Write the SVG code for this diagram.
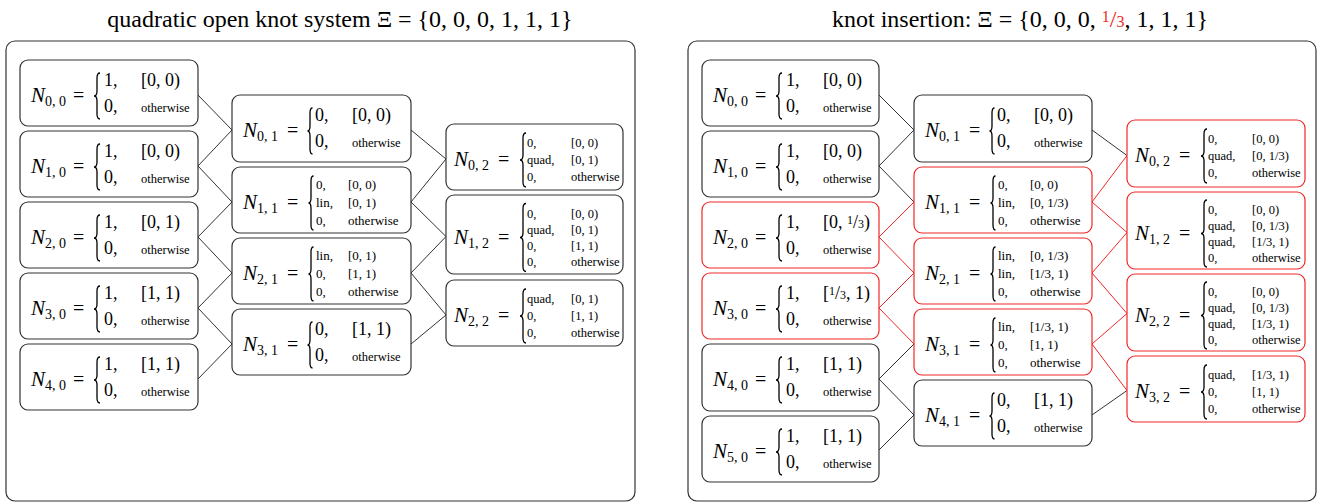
<svg xmlns="http://www.w3.org/2000/svg" width="1321" height="504" viewBox="0 0 1321 504">
<style>
.bg{fill:#fff}
.panel{fill:#fff;stroke:#333;stroke-width:1.2}
.box{fill:#fff;stroke:#333;stroke-width:1.2}
.red .box{stroke:#f02828}
text{font-family:"Liberation Serif","Times New Roman",serif;fill:#000}
.title{font-size:24px}
.nm{font-size:21px;font-style:italic}
.sub{font-size:14px}
.eq{font-size:20px}
.big{font-size:18px}
.sm{font-size:13px}
.xs{font-size:12.5px}
.fr{font-size:12px}
.br{fill:none;stroke:#000;stroke-width:1.3}
.c line{stroke:#333;stroke-width:1}
.c line.r{stroke:#f02828}
.rt{fill:#f02828}
</style>
<defs>
<path id="b2" class="br" d="M80,13 Q77,13 77,18 L77,31 Q77,36 74,36 Q77,36 77,41 L77,54 Q77,59 80,59"/>
<path id="b2w" class="br" d="M80.5,13 Q78,13 78,18 L78,31 Q78,36 75.5,36 Q78,36 78,41 L78,54 Q78,59 80.5,59"/>
<path id="b3" class="br" d="M81.5,9 Q79,9 79,14 L79,31 Q79,36 76.5,36 Q79,36 79,41 L79,58 Q79,63 81.5,63"/>
<path id="b3c" class="br" d="M80,9 Q77,9 77,14 L77,31 Q77,36 74,36 Q77,36 77,41 L77,58 Q77,63 80,63"/>
<path id="b4" class="br" d="M80,8.5 Q77,8.5 77,13.5 L77,37.5 Q77,42.5 74,42.5 Q77,42.5 77,47.5 L77,71.5 Q77,76.5 80,76.5"/>
<path id="b4r" class="br" d="M80,8 Q77,8 77,13 L77,36.5 Q77,41.5 74,41.5 Q77,41.5 77,46.5 L77,70 Q77,75 80,75"/>
</defs>
<rect class="bg" x="0" y="0" width="1321" height="504"/>

<text class="title" x="340" y="27" text-anchor="middle">quadratic open knot system Ξ = {0, 0, 0, 1, 1, 1}</text>
<text class="title" x="1020" y="27" text-anchor="middle">knot insertion: Ξ = {0, 0, 0, <tspan class="rt" font-size="16" dy="-5">1</tspan><tspan class="rt" dy="5">/</tspan><tspan class="rt" font-size="16">3</tspan>, 1, 1, 1}</text>

<rect class="panel" x="6" y="41" width="629" height="460" rx="9"/>
<rect class="panel" x="688" y="41" width="628" height="460" rx="9"/>

<g class="c" id="connectors">
<line x1="198" y1="95" x2="232" y2="130"/>
<line x1="198" y1="166" x2="232" y2="130"/>
<line x1="198" y1="166" x2="232" y2="202"/>
<line x1="198" y1="237" x2="232" y2="202"/>
<line x1="198" y1="237" x2="232" y2="273"/>
<line x1="198" y1="308" x2="232" y2="273"/>
<line x1="198" y1="308" x2="232" y2="344"/>
<line x1="198" y1="379" x2="232" y2="344"/>
<line x1="411" y1="130" x2="446" y2="159"/>
<line x1="411" y1="202" x2="446" y2="159"/>
<line x1="411" y1="202" x2="446" y2="236.5"/>
<line x1="411" y1="273" x2="446" y2="236.5"/>
<line x1="411" y1="273" x2="446" y2="315"/>
<line x1="411" y1="344" x2="446" y2="315"/>

<line x1="879" y1="95" x2="914" y2="130"/>
<line x1="879" y1="166" x2="914" y2="130"/>
<line x1="879" y1="166" x2="914" y2="202"/>
<line class="r" x1="879" y1="237" x2="914" y2="202"/>
<line class="r" x1="879" y1="237" x2="914" y2="273"/>
<line class="r" x1="879" y1="308" x2="914" y2="273"/>
<line class="r" x1="879" y1="308" x2="914" y2="344"/>
<line x1="879" y1="379" x2="914" y2="344"/>
<line x1="879" y1="379" x2="914" y2="415"/>
<line x1="879" y1="450" x2="914" y2="415"/>
<line x1="1092" y1="130" x2="1127" y2="155.5"/>
<line class="r" x1="1092" y1="202" x2="1127" y2="155.5"/>
<line class="r" x1="1092" y1="202" x2="1127" y2="232.5"/>
<line class="r" x1="1092" y1="273" x2="1127" y2="232.5"/>
<line class="r" x1="1092" y1="273" x2="1127" y2="313.5"/>
<line class="r" x1="1092" y1="344" x2="1127" y2="313.5"/>
<line class="r" x1="1092" y1="344" x2="1127" y2="390.5"/>
<line x1="1092" y1="415" x2="1127" y2="390.5"/>
</g>

<!-- LEFT column 0 -->
<g id="L-N00" transform="translate(20,60)">
<rect class="box" x="0" y="0" width="178" height="66" rx="8"/>
<text x="11" y="42"><tspan class="nm">N</tspan><tspan class="sub" dy="4">0, 0</tspan></text>
<text class="eq" x="53" y="42">=</text>
<use href="#b2"/>
<text class="big" x="84" y="26">1,</text><text class="big" x="121" y="26">[0, 0)</text>
<text class="big" x="84" y="52">0,</text><text class="xs" x="121" y="52">otherwise</text>
</g>
<g id="L-N10" transform="translate(20,131)">
<rect class="box" x="0" y="0" width="178" height="66" rx="8"/>
<text x="11" y="42"><tspan class="nm">N</tspan><tspan class="sub" dy="4">1, 0</tspan></text>
<text class="eq" x="53" y="42">=</text>
<use href="#b2"/>
<text class="big" x="84" y="26">1,</text><text class="big" x="121" y="26">[0, 0)</text>
<text class="big" x="84" y="52">0,</text><text class="xs" x="121" y="52">otherwise</text>
</g>
<g id="L-N20" transform="translate(20,202)">
<rect class="box" x="0" y="0" width="178" height="66" rx="8"/>
<text x="11" y="42"><tspan class="nm">N</tspan><tspan class="sub" dy="4">2, 0</tspan></text>
<text class="eq" x="53" y="42">=</text>
<use href="#b2"/>
<text class="big" x="84" y="26">1,</text><text class="big" x="121" y="26">[0, 1)</text>
<text class="big" x="84" y="52">0,</text><text class="xs" x="121" y="52">otherwise</text>
</g>
<g id="L-N30" transform="translate(20,273)">
<rect class="box" x="0" y="0" width="178" height="66" rx="8"/>
<text x="11" y="42"><tspan class="nm">N</tspan><tspan class="sub" dy="4">3, 0</tspan></text>
<text class="eq" x="53" y="42">=</text>
<use href="#b2"/>
<text class="big" x="84" y="26">1,</text><text class="big" x="121" y="26">[1, 1)</text>
<text class="big" x="84" y="52">0,</text><text class="xs" x="121" y="52">otherwise</text>
</g>
<g id="L-N40" transform="translate(20,344)">
<rect class="box" x="0" y="0" width="178" height="66" rx="8"/>
<text x="11" y="42"><tspan class="nm">N</tspan><tspan class="sub" dy="4">4, 0</tspan></text>
<text class="eq" x="53" y="42">=</text>
<use href="#b2"/>
<text class="big" x="84" y="26">1,</text><text class="big" x="121" y="26">[1, 1)</text>
<text class="big" x="84" y="52">0,</text><text class="xs" x="121" y="52">otherwise</text>
</g>

<!-- LEFT column 1 -->
<g id="L-N01" transform="translate(232,95)">
<rect class="box" x="0" y="0" width="179" height="67" rx="8"/>
<text x="11" y="42"><tspan class="nm">N</tspan><tspan class="sub" dy="4">0, 1</tspan></text>
<text class="eq" x="55" y="42">=</text>
<use href="#b2w"/>
<text class="big" x="83" y="26">0,</text><text class="big" x="120" y="26">[0, 0)</text>
<text class="big" x="83" y="52">0,</text><text class="xs" x="120" y="52">otherwise</text>
</g>
<g id="L-N11" transform="translate(232,167)">
<rect class="box" x="0" y="0" width="179" height="66" rx="8"/>
<text x="11" y="42"><tspan class="nm">N</tspan><tspan class="sub" dy="4">1, 1</tspan></text>
<text class="eq" x="55" y="42">=</text>
<use href="#b3"/>
<text class="sm" x="84" y="22">0,</text><text class="sm" x="116" y="22">[0, 0)</text>
<text class="sm" x="84" y="40">lin,</text><text class="sm" x="116" y="40">[0, 1)</text>
<text class="sm" x="84" y="58">0,</text><text class="sm" x="116" y="58">otherwise</text>
</g>
<g id="L-N21" transform="translate(232,238)">
<rect class="box" x="0" y="0" width="179" height="66" rx="8"/>
<text x="11" y="42"><tspan class="nm">N</tspan><tspan class="sub" dy="4">2, 1</tspan></text>
<text class="eq" x="55" y="42">=</text>
<use href="#b3"/>
<text class="sm" x="84" y="22">lin,</text><text class="sm" x="116" y="22">[0, 1)</text>
<text class="sm" x="84" y="40">0,</text><text class="sm" x="116" y="40">[1, 1)</text>
<text class="sm" x="84" y="58">0,</text><text class="sm" x="116" y="58">otherwise</text>
</g>
<g id="L-N31" transform="translate(232,309)">
<rect class="box" x="0" y="0" width="179" height="66" rx="8"/>
<text x="11" y="42"><tspan class="nm">N</tspan><tspan class="sub" dy="4">3, 1</tspan></text>
<text class="eq" x="55" y="42">=</text>
<use href="#b2w"/>
<text class="big" x="83" y="26">0,</text><text class="big" x="120" y="26">[1, 1)</text>
<text class="big" x="83" y="52">0,</text><text class="xs" x="120" y="52">otherwise</text>
</g>

<!-- LEFT column 2 -->
<g id="L-N02" transform="translate(446,124)">
<rect class="box" x="0" y="0" width="177" height="66" rx="8"/>
<text x="8" y="42"><tspan class="nm">N</tspan><tspan class="sub" dy="4">0, 2</tspan></text>
<text class="eq" x="52" y="42">=</text>
<use href="#b3c"/>
<text class="xs" x="81" y="23">0,</text><text class="xs" x="125" y="23">[0, 0)</text>
<text class="xs" x="81" y="40">quad,</text><text class="xs" x="125" y="40">[0, 1)</text>
<text class="xs" x="81" y="57">0,</text><text class="xs" x="125" y="57">otherwise</text>
</g>
<g id="L-N12" transform="translate(446,195)">
<rect class="box" x="0" y="0" width="177" height="79" rx="8"/>
<text x="8" y="48.5"><tspan class="nm">N</tspan><tspan class="sub" dy="4">1, 2</tspan></text>
<text class="eq" x="52" y="48.5">=</text>
<use href="#b4"/>
<text class="xs" x="81" y="22.5">0,</text><text class="xs" x="125" y="22.5">[0, 0)</text>
<text class="xs" x="81" y="38.5">quad,</text><text class="xs" x="125" y="38.5">[0, 1)</text>
<text class="xs" x="81" y="54.5">0,</text><text class="xs" x="125" y="54.5">[1, 1)</text>
<text class="xs" x="81" y="70.5">0,</text><text class="xs" x="125" y="70.5">otherwise</text>
</g>
<g id="L-N22" transform="translate(446,280)">
<rect class="box" x="0" y="0" width="177" height="66" rx="8"/>
<text x="8" y="42"><tspan class="nm">N</tspan><tspan class="sub" dy="4">2, 2</tspan></text>
<text class="eq" x="52" y="42">=</text>
<use href="#b3c"/>
<text class="xs" x="81" y="23">quad,</text><text class="xs" x="125" y="23">[0, 1)</text>
<text class="xs" x="81" y="40">0,</text><text class="xs" x="125" y="40">[1, 1)</text>
<text class="xs" x="81" y="57">0,</text><text class="xs" x="125" y="57">otherwise</text>
</g>

<!-- RIGHT column 0 -->
<g id="R-N00" transform="translate(702,60)">
<rect class="box" x="0" y="0" width="177" height="66" rx="8"/>
<text x="11" y="42"><tspan class="nm">N</tspan><tspan class="sub" dy="4">0, 0</tspan></text>
<text class="eq" x="53" y="42">=</text>
<use href="#b2"/>
<text class="big" x="84" y="26">1,</text><text class="big" x="121" y="26">[0, 0)</text>
<text class="big" x="84" y="52">0,</text><text class="xs" x="121" y="52">otherwise</text>
</g>
<g id="R-N10" transform="translate(702,131)">
<rect class="box" x="0" y="0" width="177" height="66" rx="8"/>
<text x="11" y="42"><tspan class="nm">N</tspan><tspan class="sub" dy="4">1, 0</tspan></text>
<text class="eq" x="53" y="42">=</text>
<use href="#b2"/>
<text class="big" x="84" y="26">1,</text><text class="big" x="121" y="26">[0, 0)</text>
<text class="big" x="84" y="52">0,</text><text class="xs" x="121" y="52">otherwise</text>
</g>
<g id="R-N20" class="red" transform="translate(702,202)">
<rect class="box" x="0" y="0" width="177" height="66" rx="8"/>
<text x="11" y="42"><tspan class="nm">N</tspan><tspan class="sub" dy="4">2, 0</tspan></text>
<text class="eq" x="53" y="42">=</text>
<use href="#b2"/>
<text class="big" x="84" y="26">1,</text><text class="big" x="121" y="26">[0, <tspan class="fr" dy="-4">1</tspan><tspan dy="4">/</tspan><tspan class="fr">3</tspan>)</text>
<text class="big" x="84" y="52">0,</text><text class="xs" x="121" y="52">otherwise</text>
</g>
<g id="R-N30" class="red" transform="translate(702,273)">
<rect class="box" x="0" y="0" width="177" height="66" rx="8"/>
<text x="11" y="42"><tspan class="nm">N</tspan><tspan class="sub" dy="4">3, 0</tspan></text>
<text class="eq" x="53" y="42">=</text>
<use href="#b2"/>
<text class="big" x="84" y="26">1,</text><text class="big" x="121" y="26">[<tspan class="fr" dy="-4">1</tspan><tspan dy="4">/</tspan><tspan class="fr">3</tspan>, 1)</text>
<text class="big" x="84" y="52">0,</text><text class="xs" x="121" y="52">otherwise</text>
</g>
<g id="R-N40" transform="translate(702,344)">
<rect class="box" x="0" y="0" width="177" height="67" rx="8"/>
<text x="11" y="42"><tspan class="nm">N</tspan><tspan class="sub" dy="4">4, 0</tspan></text>
<text class="eq" x="53" y="42">=</text>
<use href="#b2"/>
<text class="big" x="84" y="26">1,</text><text class="big" x="121" y="26">[1, 1)</text>
<text class="big" x="84" y="52">0,</text><text class="xs" x="121" y="52">otherwise</text>
</g>
<g id="R-N50" transform="translate(702,416)">
<rect class="box" x="0" y="0" width="177" height="66" rx="8"/>
<text x="11" y="42"><tspan class="nm">N</tspan><tspan class="sub" dy="4">5, 0</tspan></text>
<text class="eq" x="53" y="42">=</text>
<use href="#b2"/>
<text class="big" x="84" y="26">1,</text><text class="big" x="121" y="26">[1, 1)</text>
<text class="big" x="84" y="52">0,</text><text class="xs" x="121" y="52">otherwise</text>
</g>

<!-- RIGHT column 1 -->
<g id="R-N01" transform="translate(914,95)">
<rect class="box" x="0" y="0" width="178" height="67" rx="8"/>
<text x="11" y="42"><tspan class="nm">N</tspan><tspan class="sub" dy="4">0, 1</tspan></text>
<text class="eq" x="55" y="42">=</text>
<use href="#b2w"/>
<text class="big" x="83" y="26">0,</text><text class="big" x="120" y="26">[0, 0)</text>
<text class="big" x="83" y="52">0,</text><text class="xs" x="120" y="52">otherwise</text>
</g>
<g id="R-N11" class="red" transform="translate(914,167)">
<rect class="box" x="0" y="0" width="178" height="66" rx="8"/>
<text x="11" y="42"><tspan class="nm">N</tspan><tspan class="sub" dy="4">1, 1</tspan></text>
<text class="eq" x="55" y="42">=</text>
<use href="#b3"/>
<text class="sm" x="84" y="22">0,</text><text class="sm" x="116" y="22">[0, 0)</text>
<text class="sm" x="84" y="40">lin,</text><text class="sm" x="116" y="40">[0, 1/3)</text>
<text class="sm" x="84" y="58">0,</text><text class="sm" x="116" y="58">otherwise</text>
</g>
<g id="R-N21" class="red" transform="translate(914,238)">
<rect class="box" x="0" y="0" width="178" height="66" rx="8"/>
<text x="11" y="42"><tspan class="nm">N</tspan><tspan class="sub" dy="4">2, 1</tspan></text>
<text class="eq" x="55" y="42">=</text>
<use href="#b3"/>
<text class="sm" x="84" y="22">lin,</text><text class="sm" x="116" y="22">[0, 1/3)</text>
<text class="sm" x="84" y="40">lin,</text><text class="sm" x="116" y="40">[1/3, 1)</text>
<text class="sm" x="84" y="58">0,</text><text class="sm" x="116" y="58">otherwise</text>
</g>
<g id="R-N31" class="red" transform="translate(914,309)">
<rect class="box" x="0" y="0" width="178" height="66" rx="8"/>
<text x="11" y="42"><tspan class="nm">N</tspan><tspan class="sub" dy="4">3, 1</tspan></text>
<text class="eq" x="55" y="42">=</text>
<use href="#b3"/>
<text class="sm" x="84" y="22">lin,</text><text class="sm" x="116" y="22">[1/3, 1)</text>
<text class="sm" x="84" y="40">0,</text><text class="sm" x="116" y="40">[1, 1)</text>
<text class="sm" x="84" y="58">0,</text><text class="sm" x="116" y="58">otherwise</text>
</g>
<g id="R-N41" transform="translate(914,380)">
<rect class="box" x="0" y="0" width="178" height="66" rx="8"/>
<text x="11" y="42"><tspan class="nm">N</tspan><tspan class="sub" dy="4">4, 1</tspan></text>
<text class="eq" x="55" y="42">=</text>
<use href="#b2w"/>
<text class="big" x="83" y="26">0,</text><text class="big" x="120" y="26">[1, 1)</text>
<text class="big" x="83" y="52">0,</text><text class="xs" x="120" y="52">otherwise</text>
</g>

<!-- RIGHT column 2 -->
<g id="R-N02" class="red" transform="translate(1127,120)">
<rect class="box" x="0" y="0" width="178" height="67" rx="8"/>
<text x="8" y="42"><tspan class="nm">N</tspan><tspan class="sub" dy="4">0, 2</tspan></text>
<text class="eq" x="52" y="42">=</text>
<use href="#b3c"/>
<text class="xs" x="81" y="23">0,</text><text class="xs" x="125" y="23">[0, 0)</text>
<text class="xs" x="81" y="40">quad,</text><text class="xs" x="125" y="40">[0, 1/3)</text>
<text class="xs" x="81" y="57">0,</text><text class="xs" x="125" y="57">otherwise</text>
</g>
<g id="R-N12" class="red" transform="translate(1127,192)">
<rect class="box" x="0" y="0" width="178" height="77" rx="8"/>
<text x="8" y="47.5"><tspan class="nm">N</tspan><tspan class="sub" dy="4">1, 2</tspan></text>
<text class="eq" x="52" y="47.5">=</text>
<use href="#b4r"/>
<text class="xs" x="81" y="21.5">0,</text><text class="xs" x="125" y="21.5">[0, 0)</text>
<text class="xs" x="81" y="37.5">quad,</text><text class="xs" x="125" y="37.5">[0, 1/3)</text>
<text class="xs" x="81" y="53.5">quad,</text><text class="xs" x="125" y="53.5">[1/3, 1)</text>
<text class="xs" x="81" y="69.5">0,</text><text class="xs" x="125" y="69.5">otherwise</text>
</g>
<g id="R-N22" class="red" transform="translate(1127,274)">
<rect class="box" x="0" y="0" width="178" height="77" rx="8"/>
<text x="8" y="47.5"><tspan class="nm">N</tspan><tspan class="sub" dy="4">2, 2</tspan></text>
<text class="eq" x="52" y="47.5">=</text>
<use href="#b4r"/>
<text class="xs" x="81" y="21.5">0,</text><text class="xs" x="125" y="21.5">[0, 0)</text>
<text class="xs" x="81" y="37.5">quad,</text><text class="xs" x="125" y="37.5">[0, 1/3)</text>
<text class="xs" x="81" y="53.5">quad,</text><text class="xs" x="125" y="53.5">[1/3, 1)</text>
<text class="xs" x="81" y="69.5">0,</text><text class="xs" x="125" y="69.5">otherwise</text>
</g>
<g id="R-N32" class="red" transform="translate(1127,356)">
<rect class="box" x="0" y="0" width="178" height="66" rx="8"/>
<text x="8" y="42"><tspan class="nm">N</tspan><tspan class="sub" dy="4">3, 2</tspan></text>
<text class="eq" x="52" y="42">=</text>
<use href="#b3c"/>
<text class="xs" x="81" y="23">quad,</text><text class="xs" x="125" y="23">[1/3, 1)</text>
<text class="xs" x="81" y="40">0,</text><text class="xs" x="125" y="40">[1, 1)</text>
<text class="xs" x="81" y="57">0,</text><text class="xs" x="125" y="57">otherwise</text>
</g>
</svg>
